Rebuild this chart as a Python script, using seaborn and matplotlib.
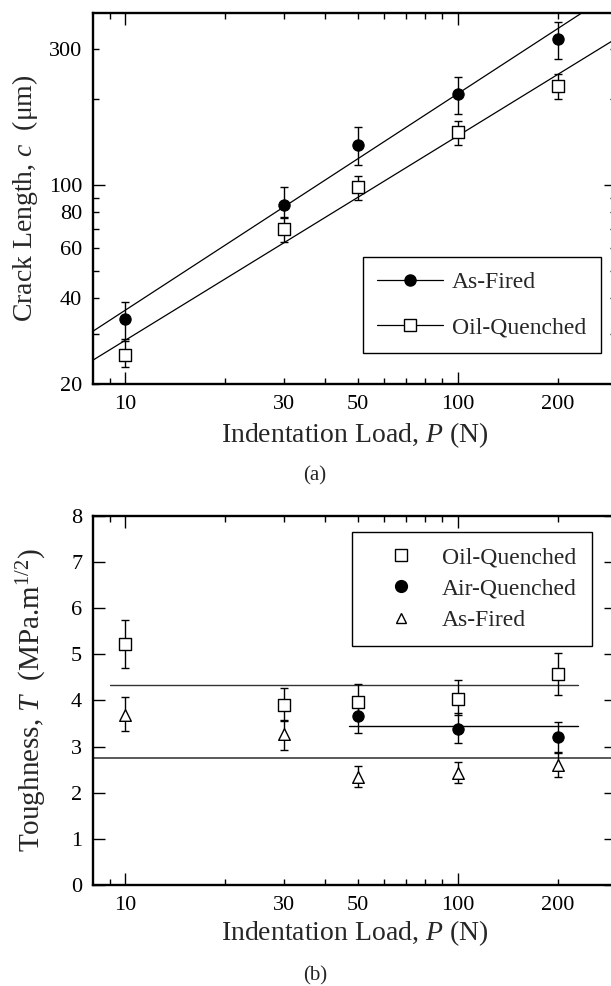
import matplotlib
matplotlib.use('Agg')
import matplotlib.pyplot as plt
import seaborn as sns
import numpy as np
from matplotlib.ticker import FixedLocator, FuncFormatter
from matplotlib.lines import Line2D

# ---------------- data ----------------
load_P = [10, 30, 50, 100, 200]

# (a) crack length, um
crack_asfired = [33.7, 85.1, 138, 208.6, 325]
crack_asfired_lo = [28.7, 77.1, 117, 178, 276]
crack_asfired_hi = [38.7, 98.2, 159, 240, 373]
crack_oil = [25.3, 70.1, 98.2, 153, 223]
crack_oil_lo = [22.9, 63.0, 88.4, 138, 200.5]
crack_oil_hi = [28.4, 76.7, 107.6, 168, 245.5]
# straight-line fits (end points)
fit_asfired_P = [8, 235.7]
fit_asfired_c = [30.7, 400]
fit_oil_P = [8, 300]
fit_oil_c = [24.3, 326]

# (b) toughness, MPa.m^1/2
tough_oil = [5.21, 3.89, 3.96, 4.04, 4.58]
tough_oil_lo = [4.69, 3.55, 3.60, 3.68, 4.12]
tough_oil_hi = [5.73, 4.27, 4.35, 4.44, 5.03]
air_P = [50, 100, 200]
tough_air = [3.66, 3.39, 3.21]
tough_air_lo = [3.30, 3.07, 2.89]
tough_air_hi = [4.02, 3.72, 3.54]
tough_asf = [3.68, 3.28, 2.33, 2.43, 2.60]
tough_asf_lo = [3.34, 2.92, 2.13, 2.22, 2.33]
tough_asf_hi = [4.08, 3.57, 2.58, 2.67, 2.85]
# mean lines
mean_oil_P = [9, 230]
mean_oil_T = [4.33, 4.33]
mean_air_P = [47, 230]
mean_air_T = [3.44, 3.44]
mean_asf_P = [8, 300]
mean_asf_T = [2.76, 2.76]

x_labels = [10, 30, 50, 100, 200]
y1_labels = [20, 40, 60, 80, 100, 300]

# ---------------- style ----------------
sns.set_theme(style='ticks')
plt.rcParams['font.family'] = ['Liberation Serif', 'DejaVu Serif']
plt.rcParams['mathtext.fontset'] = 'custom'
plt.rcParams['mathtext.rm'] = 'Liberation Serif'
plt.rcParams['mathtext.it'] = 'Liberation Serif:italic'
plt.rcParams['mathtext.bf'] = 'Liberation Serif:bold'

fig = plt.figure(figsize=(6.11, 9.86), dpi=100)
ax1 = fig.add_axes([0.1527, 0.6105, 0.8555, 0.376])
ax2 = fig.add_axes([0.1527, 0.1024, 0.8555, 0.3746])

TICK_FS = 16
LABEL_FS = 20
LEG_FS = 17


def fmt_from(keep):
    return FuncFormatter(lambda v, p: f'{v:g}' if any(abs(v - k) < 1e-6 for k in keep) else '')


def style_axes(ax):
    for s in ax.spines.values():
        s.set_linewidth(1.7)
        s.set_color('black')
    ax.tick_params(which='both', direction='in', top=True, right=True,
                   colors='black', labelsize=TICK_FS, width=1.0, pad=8)
    ax.tick_params(which='major', length=8.5)
    ax.tick_params(which='minor', length=4.5)
    ax.set_xscale('log')
    ax.set_xlim(8, 300)
    ax.xaxis.set_major_locator(FixedLocator([10, 100]))
    ax.xaxis.set_major_formatter(fmt_from(x_labels))
    ax.xaxis.set_minor_locator(FixedLocator([9, 20, 30, 40, 50, 60, 70, 80, 90, 200]))
    ax.xaxis.set_minor_formatter(fmt_from(x_labels))
    ax.grid(False)


def errbars(ax, x, v, lo, hi):
    v = np.asarray(v)
    ax.errorbar(x, v, yerr=[v - np.asarray(lo), np.asarray(hi) - v], fmt='none',
                ecolor='black', elinewidth=1.0, capsize=3.2, capthick=1.0, zorder=2)


# ---------------- (a) ----------------
style_axes(ax1)
ax1.set_yscale('log')
ax1.set_ylim(20, 400)
ax1.yaxis.set_major_locator(FixedLocator([100]))
ax1.yaxis.set_major_formatter(fmt_from(y1_labels))
ax1.yaxis.set_minor_locator(FixedLocator([20, 30, 40, 50, 60, 70, 80, 90, 200, 300]))
ax1.yaxis.set_minor_formatter(fmt_from(y1_labels))

sns.lineplot(x=fit_asfired_P, y=fit_asfired_c, color='black', lw=0.9, ax=ax1, zorder=1)
sns.lineplot(x=fit_oil_P, y=fit_oil_c, color='black', lw=0.9, ax=ax1, zorder=1)
errbars(ax1, load_P, crack_asfired, crack_asfired_lo, crack_asfired_hi)
errbars(ax1, load_P, crack_oil, crack_oil_lo, crack_oil_hi)
sns.scatterplot(x=load_P, y=crack_asfired, marker='o', s=66, color='black',
                edgecolor='black', linewidth=0.8, ax=ax1, zorder=3, legend=False)
sns.scatterplot(x=load_P, y=crack_oil, marker='s', s=64, color='white',
                edgecolor='black', linewidth=1.0, ax=ax1, zorder=3, legend=False)

ax1.set_xlabel('Indentation Load, $P$ (N)', fontsize=LABEL_FS, va='center')
ax1.xaxis.set_label_coords(0.5, -0.1376)
ax1.set_ylabel('Crack Length, $c$  (μm)', fontsize=LABEL_FS, va='center')
ax1.yaxis.set_label_coords(-0.1307, 0.5)

h1 = [Line2D([], [], color='black', lw=0.9, marker='o', ms=8, mfc='black', mec='black'),
      Line2D([], [], color='black', lw=0.9, marker='s', ms=8, mfc='white', mec='black')]
leg1 = ax1.legend(h1, ['As-Fired', 'Oil-Quenched'], loc='lower right',
                  bbox_to_anchor=(0.9713, 0.0836), borderaxespad=0, borderpad=0.62,
                  handlelength=2.8, handletextpad=0.37, labelspacing=1.0,
                  fontsize=LEG_FS, fancybox=False, framealpha=1, edgecolor='black')
leg1.get_frame().set_linewidth(1.0)

# ---------------- (b) ----------------
style_axes(ax2)
ax2.set_ylim(0, 8)
ax2.yaxis.set_major_locator(FixedLocator(range(0, 9)))
ax2.yaxis.set_major_formatter(FuncFormatter(lambda v, p: f'{v:g}'))

sns.lineplot(x=mean_oil_P, y=mean_oil_T, color='0.2', lw=1.0, ax=ax2, zorder=1)
sns.lineplot(x=mean_air_P, y=mean_air_T, color='black', lw=1.0, ax=ax2, zorder=1)
sns.lineplot(x=mean_asf_P, y=mean_asf_T, color='0.35', lw=1.4, ax=ax2, zorder=1)
errbars(ax2, load_P, tough_oil, tough_oil_lo, tough_oil_hi)
errbars(ax2, air_P, tough_air, tough_air_lo, tough_air_hi)
errbars(ax2, load_P, tough_asf, tough_asf_lo, tough_asf_hi)
sns.scatterplot(x=load_P, y=tough_oil, marker='s', s=64, color='white',
                edgecolor='black', linewidth=1.0, ax=ax2, zorder=3, legend=False)
sns.scatterplot(x=air_P, y=tough_air, marker='o', s=66, color='black',
                edgecolor='black', linewidth=0.8, ax=ax2, zorder=3, legend=False)
sns.scatterplot(x=load_P, y=tough_asf, marker='^', s=70, color='white',
                edgecolor='black', linewidth=1.0, ax=ax2, zorder=3, legend=False)

ax2.set_xlabel('Indentation Load, $P$ (N)', fontsize=LABEL_FS, va='center')
ax2.xaxis.set_label_coords(0.5, -0.130)
ax2.set_ylabel('Toughness, $T$  (MPa.m$^{1/2}$)', fontsize=LABEL_FS + 1, va='center')
ax2.yaxis.set_label_coords(-0.117, 0.5)

h2 = [Line2D([], [], ls='none', marker='s', ms=8.5, mfc='white', mec='black', mew=1.0),
      Line2D([], [], ls='none', marker='o', ms=8.5, mfc='black', mec='black'),
      Line2D([], [], ls='none', marker='^', ms=7.5, mfc='white', mec='black', mew=1.0)]
leg2 = ax2.legend(h2, ['Oil-Quenched', 'Air-Quenched', 'As-Fired'], loc='upper right',
                  bbox_to_anchor=(0.9535, 0.9567), borderaxespad=0, borderpad=0.64,
                  handlelength=2.87, handletextpad=0.3, labelspacing=0.42,
                  fontsize=LEG_FS, fancybox=False, framealpha=1, edgecolor='black')
leg2.get_frame().set_linewidth(1.0)

fig.text(315 / 611, 1 - 476 / 986, '(a)', ha='center', va='center', fontsize=15)
fig.text(315 / 611, 1 - 976 / 986, '(b)', ha='center', va='center', fontsize=15)

fig.savefig('out.png', dpi=100)
